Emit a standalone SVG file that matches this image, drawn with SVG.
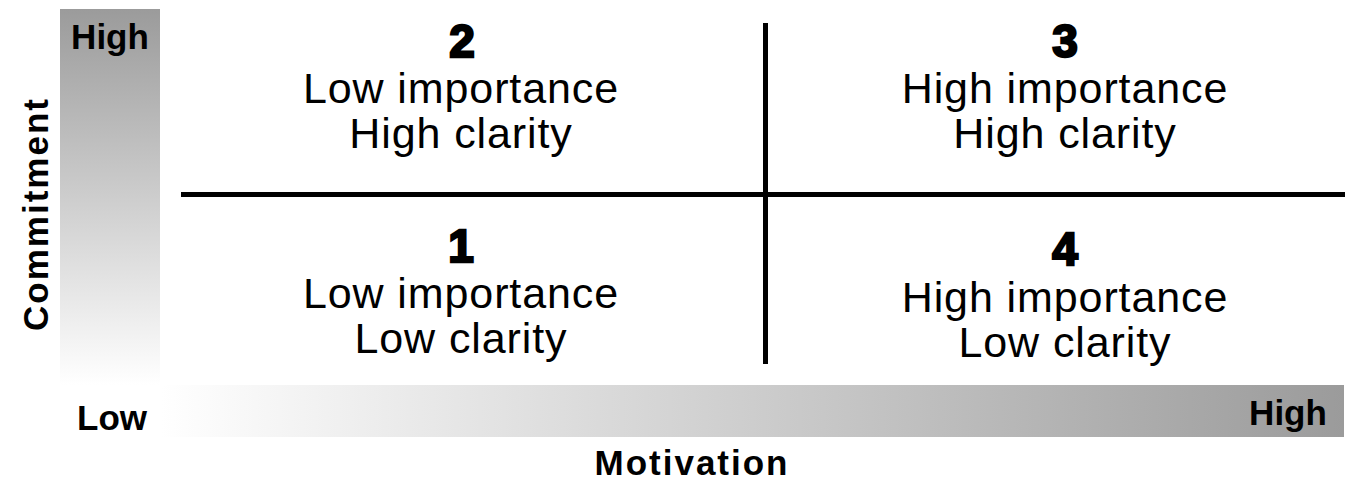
<svg xmlns="http://www.w3.org/2000/svg" width="1350" height="484" viewBox="0 0 1350 484">
<defs>
<linearGradient id="gv" x1="0" y1="0" x2="0" y2="1">
<stop offset="0" stop-color="#9b9b9b"/>
<stop offset="1" stop-color="#ffffff"/>
</linearGradient>
<linearGradient id="gh" x1="0" y1="0" x2="1" y2="0">
<stop offset="0" stop-color="#ffffff"/>
<stop offset="1" stop-color="#9b9b9b"/>
</linearGradient>
<style>
.ax{font-family:"Liberation Sans",Arial,sans-serif;font-weight:bold;font-size:35px;fill:#000}
.num{font-family:"Liberation Sans",Arial,sans-serif;font-weight:bold;font-size:46px;fill:#000;stroke:#000;stroke-width:2.4;text-anchor:middle}
.q{font-family:"Liberation Sans",Arial,sans-serif;font-size:43px;letter-spacing:0.9px;fill:#000;text-anchor:middle}
.ln{stroke:#000;stroke-width:5;fill:none}
</style>
</defs>
<rect width="1350" height="484" fill="#fff"/>
<g id="axis-commitment">
<rect x="60" y="9" width="100" height="376" fill="url(#gv)"/>
<text class="ax" x="110" y="49" text-anchor="middle">High</text>
<text class="ax" x="36" y="214" text-anchor="middle" transform="rotate(-90 36 214)" dy="12" letter-spacing="2">Commitment</text>
</g>
<g id="axis-motivation">
<rect x="161" y="385" width="1183" height="52" fill="url(#gh)"/>
<text class="ax" x="112" y="430" text-anchor="middle">Low</text>
<text class="ax" x="1288" y="425" text-anchor="middle">High</text>
<text class="ax" x="692" y="475" text-anchor="middle" font-size="39" letter-spacing="2">Motivation</text>
</g>
<g id="connectors">
<line class="ln" x1="181" y1="194.5" x2="1345" y2="194.5"/>
<line class="ln" x1="765.5" y1="23" x2="765.5" y2="364"/>
</g>
<g id="q2">
<text class="num" x="462" y="57">2</text>
<text class="q" x="461" y="103">Low importance</text>
<text class="q" x="461" y="148">High clarity</text>
</g>
<g id="q3">
<text class="num" x="1065" y="57">3</text>
<text class="q" x="1065" y="103">High importance</text>
<text class="q" x="1065" y="148">High clarity</text>
</g>
<g id="q1">
<text class="num" x="461" y="262">1</text>
<text class="q" x="461" y="308">Low importance</text>
<text class="q" x="461" y="353">Low clarity</text>
</g>
<g id="q4">
<text class="num" x="1065" y="265">4</text>
<text class="q" x="1065" y="312">High importance</text>
<text class="q" x="1065" y="357">Low clarity</text>
</g>
</svg>
